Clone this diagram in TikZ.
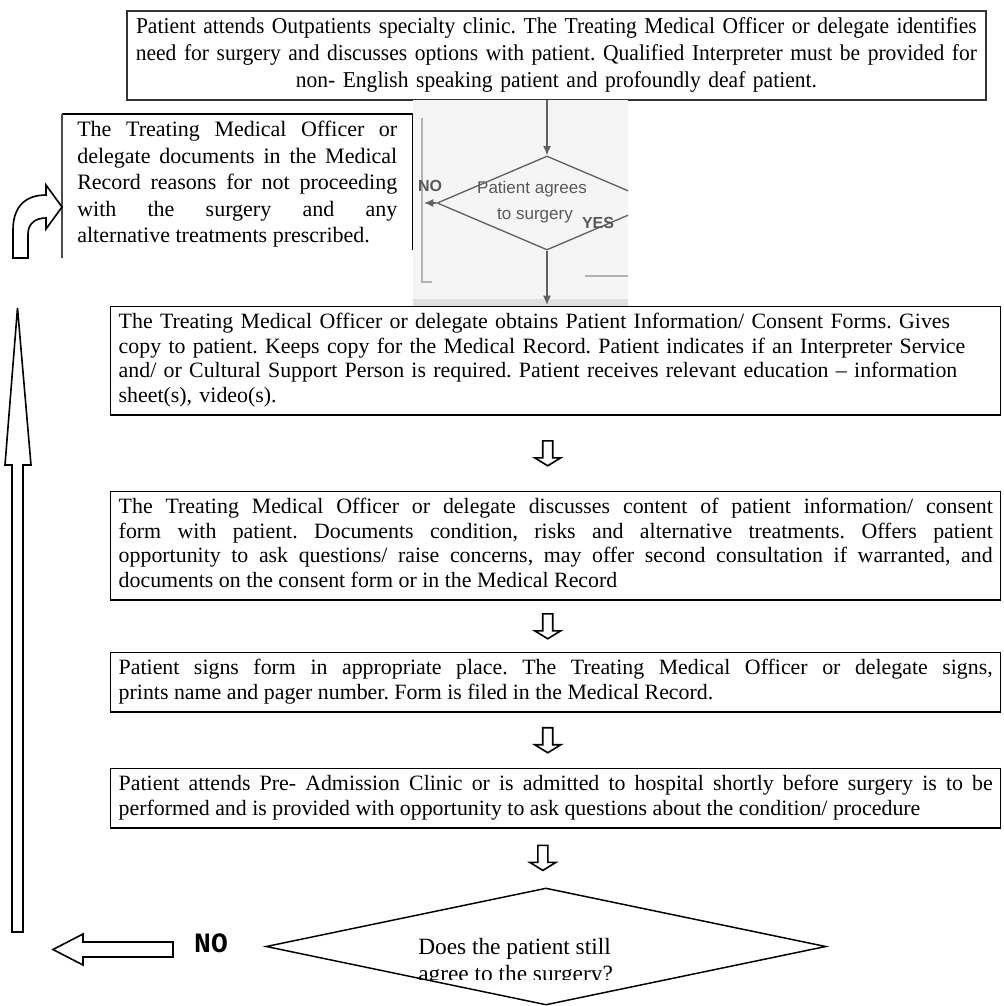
\documentclass[tikz,border=0pt]{standalone}
\usepackage{fontspec}
\setmainfont{Liberation Serif}
\newfontfamily\narrowserif[FakeStretch=0.95]{Liberation Serif}
\newfontfamily\shotsans{Liberation Sans}
\newfontfamily\typewriter{Liberation Mono}
\usetikzlibrary{shapes.geometric,arrows.meta,calc}

\tikzset{
  flowbox/.style={draw=black, line width=1.1pt, anchor=north west,
    inner xsep=6pt, inner ysep=3.75pt, text width=655.5pt,
    font=\fontsize{16.4pt}{18.4pt}\selectfont},
  hollow/.style={draw=black, line width=1.2pt, fill=white, line join=miter},
  hollowdown/.pic={
    \draw[hollow] (-5,-12.5) -- (-5,4.5) -- (-13,4.5) -- (0,12.5)
      -- (13,4.5) -- (5,4.5) -- (5,-12.5) -- cycle;},
  shotline/.style={draw=black!62, line width=1pt},
  shottext/.style={text=black!65, inner sep=0pt,
    font=\shotsans\fontsize{12.75pt}{15pt}\selectfont},
  shotbold/.style={shottext, font=\shotsans\bfseries\fontsize{12pt}{14pt}\selectfont},
}

\begin{document}
\frenchspacing
\begin{tikzpicture}[x=0.75pt, y=-0.75pt]
\fill[white] (0,0) rectangle (1003,1006);
\useasboundingbox (0,0) rectangle (1003,1006);

% first step
\node[draw=black!80, line width=1.3pt, anchor=north west, inner xsep=2.25pt,
  inner ysep=3pt, text width=639.75pt, align=center,
  font=\narrowserif\fontsize{17pt}{20.25pt}\selectfont] (top) at (126,10)
  {\strut Patient attends Outpatients specialty clinic. The Treating Medical Officer or delegate identifies\\
   need for surgery and discusses options with patient. Qualified Interpreter must be provided for\\
   non- English speaking patient and profoundly deaf patient.\strut};

% not proceeding
\node[anchor=north west, inner xsep=11.25pt, inner ysep=3pt, text width=240pt,
  align=justify, font=\fontsize{16.5pt}{19.9pt}\selectfont] (lb) at (62,114)
  {\strut The Treating Medical Officer or\linebreak
   delegate documents in the Medical\linebreak
   Record reasons for not proceeding\linebreak
   with the surgery and any\linebreak
   alternative treatments prescribed.\strut};
\draw[line width=1.1pt] (lb.north west) -- (lb.north east);
\draw[line width=1pt, black!70] (lb.north west) -- ++(0,144);
\draw[line width=1pt] (lb.north east) -- ++(0,136);

% inset decision sketch
\begin{scope}
  \clip (413,100) rectangle (628,306);
  \fill[black!4] (413,100) rectangle (628,306);
  \fill[black!12] (413,299) rectangle (628,306);
  \draw[black!30, line width=1pt] (422,118) -- (422,282) -- (432,282);
  \draw[black!30, line width=1pt] (585,276) -- (628,276);
  \node[diamond, shotline, minimum width=165pt, minimum height=70.5pt,
    inner sep=0pt] (sq) at (547,203) {};
  \draw[shotline, -{Latex[length=7pt,width=6pt]}] (547,100) -- (sq.north);
  \draw[shotline, -{Latex[length=7pt,width=6pt]}] (sq.west) -- (424,203);
  \draw[shotline, -{Latex[length=7pt,width=6pt]}] (sq.south) -- (547,305);
  \node[shottext] (sqa) at (532,189) {Patient agrees};
  \node[shottext] (sqb) at (535,216) {to surgery};
  \node[shotbold] (sqyes) at (598,223) {YES};
  \node[shotbold] (sqno) at (430,186) {NO};
\end{scope}

% main column
\node[flowbox, align=left] (b3) at (110,306)
  {\strut The Treating Medical Officer or delegate obtains Patient Information/ Consent Forms. Gives\\
   copy to patient. Keeps copy for the Medical Record. Patient indicates if an Interpreter Service\\
   and/ or Cultural Support Person is required. Patient receives relevant education – information\\
   sheet(s), video(s).\strut};

\node[flowbox, align=justify] (b4) at (110,491)
  {\strut The Treating Medical Officer or delegate discusses content of patient information/ consent\linebreak
   form with patient. Documents condition, risks and alternative treatments. Offers patient\linebreak
   opportunity to ask questions/ raise concerns, may offer second consultation if warranted, and\linebreak
   documents on the consent form or in the Medical Record\strut};

\node[flowbox, align=justify] (b5) at (110,652)
  {\strut Patient signs form in appropriate place. The Treating Medical Officer or delegate signs,\linebreak
   prints name and pager number. Form is filed in the Medical Record.\strut};

\node[flowbox, align=justify] (b6) at (110,768)
  {\strut Patient attends Pre- Admission Clinic or is admitted to hospital shortly before surgery is to be\linebreak
   performed and is provided with opportunity to ask questions about the condition/ procedure\strut};

\node[diamond, draw=black, line width=1.1pt, minimum width=420pt,
  minimum height=87.75pt, inner sep=0pt] (q) at (546,946.5) {};
\begin{scope}
  \clip (300,900) rectangle (800,979);
  \node[anchor=north west, inner sep=0pt, align=left,
    font=\fontsize{17.5pt}{20.25pt}\selectfont] (qtext) at (418,935)
    {\strut Does the patient still\\agree to the surgery?\strut};
\end{scope}

% hollow connectors between steps
\pic at ([xshift=-6pt]$(b3.south)!0.5!(b4.north)$) {hollowdown};
\pic at ([xshift=-6pt]$(b4.south)!0.5!(b5.north)$) {hollowdown};
\pic at ([xshift=-6pt]$(b5.south)!0.5!(b6.north)$) {hollowdown};
\pic at ([xshift=-6pt]$(b6.south)!0.5!(q.north)$) {hollowdown};

% the "no" branch back to the top
\node[inner sep=0pt, font=\typewriter\bfseries\fontsize{21pt}{21pt}\selectfont]
  (nolabel) at (211,943) {NO};
\draw[hollow] (173,942) -- (83,942) -- (83,934) -- (53,949.5) -- (83,965)
  -- (83,957) -- (173,957) -- cycle;
\draw[hollow] (12,932) -- (12,465) -- (5,465) -- (17.5,308) -- (31,465)
  -- (23,465) -- (23,932) -- cycle;
\draw[hollow] (13,258) -- (13,230) .. controls (13,207) and (25,195) .. (46,195)
  -- (46,185) -- (62,207) -- (46,229) -- (46,218)
  .. controls (35,218) and (28,224) .. (28,234) -- (28,258) -- cycle;
\end{tikzpicture}
\end{document}
